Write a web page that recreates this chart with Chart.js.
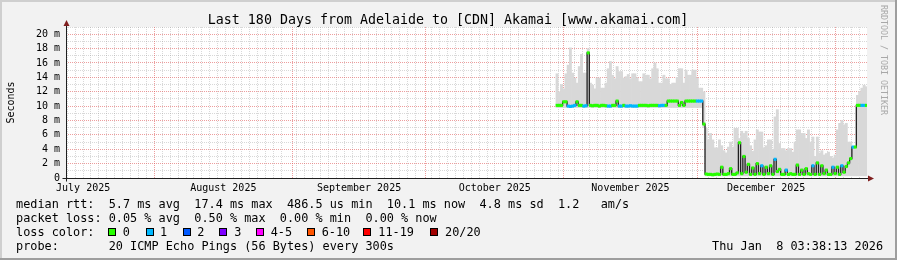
<!DOCTYPE html>
<html><head><meta charset="utf-8">
<script src="https://cdn.jsdelivr.net/npm/chart.js@4/dist/chart.umd.min.js"></script>
<style>html,body{margin:0;padding:0;background:#f2f2f2;overflow:hidden}canvas{display:block}</style>
</head><body>
<canvas id="c" width="897" height="260" style="width:897px;height:260px"></canvas>
<script>
// time axis: days since 2025-07-01 00:00
const viewStart = 11.15, viewEnd = 191.15;
const startDay = 121.5, stepDays = 0.5;

const median = [
10.1,10.1,10.1,10.6,10.6,10.0,9.95,10.0,10.1,10.6,
10.1,10.1,10.0,10.05,17.4,10.1,10.05,10.1,10.1,10.0,
10.1,10.1,10.05,10.0,10.0,10.1,10.1,10.7,10.0,10.0,
10.1,10.0,10.0,10.05,10.0,10.0,10.0,10.1,10.1,10.1,
10.1,10.05,10.1,10.1,10.1,10.1,10.05,10.1,10.1,10.1,
10.7,10.7,10.7,10.7,10.7,10.1,10.5,10.1,10.7,10.7,
10.7,10.7,10.7,10.7,10.7,10.7,7.5,0.55,0.5,0.5,
0.45,0.5,0.55,0.5,1.5,0.5,0.5,0.6,1.3,0.5,
0.5,0.7,4.9,0.6,3.0,0.8,1.9,0.5,1.4,0.5,
2.0,0.6,1.7,0.5,1.5,0.6,1.7,0.5,2.6,0.9,
1.2,0.5,0.5,1.1,0.5,0.6,0.5,0.5,1.8,0.5,
1.1,0.5,1.3,0.6,0.5,1.7,0.5,2.1,0.5,1.7,
0.6,1.1,0.5,0.5,1.5,0.6,1.5,0.5,1.7,0.8,
1.6,2.1,2.7,4.3,4.3,10.1,10.1,10.1,10.1,10.1
];
const smokeMax = [
14.5,12.0,13.0,12.4,14.5,15.7,18.1,14.6,13.9,13.2,
15.5,17.2,14.6,14.6,18.0,13.2,12.9,12.4,13.9,13.9,
12.5,12.5,13.2,15.2,16.2,14.3,13.8,15.5,14.8,14.8,
13.9,14.1,14.4,13.8,14.5,14.5,13.9,13.4,13.4,14.5,
14.3,14.3,13.8,15.2,16.0,15.2,13.2,13.2,14.3,13.8,
13.8,13.0,13.2,13.2,14.0,15.2,15.2,13.2,15.0,14.3,
14.3,15.0,15.0,13.9,12.5,12.5,12.0,6.9,5.3,6.2,
5.3,4.2,4.2,5.3,4.5,3.8,3.5,4.3,5.0,4.3,
6.9,6.9,5.5,6.5,6.2,6.5,5.5,4.5,3.7,5.3,
6.7,6.4,6.4,4.2,4.5,5.3,5.3,4.0,8.5,9.5,
4.8,4.1,4.1,3.8,4.1,4.1,3.6,5.0,6.7,6.7,
6.2,6.2,5.5,6.7,5.0,5.7,3.0,5.7,3.5,3.8,
3.2,3.4,3.6,3.0,2.8,3.2,6.7,7.6,8.0,7.4,
7.6,5.0,5.0,4.3,4.3,11.5,12.0,12.5,12.9,12.7
];
const smokeMin = [
9.8,9.8,9.8,9.8,9.8,9.8,9.8,9.8,9.8,9.8,
9.8,9.8,9.8,9.8,9.8,9.8,9.8,9.8,9.8,9.8,
9.8,9.8,9.8,9.8,9.8,9.8,9.8,9.8,9.8,9.8,
9.8,9.8,9.8,9.8,9.8,9.8,9.8,9.8,9.8,9.8,
9.8,9.8,9.8,9.8,9.8,9.8,9.8,9.8,9.8,9.8,
9.8,9.8,9.8,9.8,9.8,9.8,9.8,9.8,9.8,9.8,
9.8,9.8,9.8,9.8,9.8,9.8,7.0,0.3,0.3,0.3,
0.3,0.3,0.3,0.3,0.3,0.3,0.3,0.3,0.3,0.3,
0.3,0.3,0.3,0.3,0.3,0.3,0.3,0.3,0.3,0.3,
0.3,0.3,0.3,0.3,0.3,0.3,0.3,0.3,0.3,0.3,
0.3,0.3,0.3,0.3,0.3,0.3,0.3,0.3,0.3,0.3,
0.3,0.3,0.3,0.3,0.3,0.3,0.3,0.3,0.3,0.3,
0.3,0.3,0.3,0.3,0.3,0.3,0.3,0.3,0.3,0.3,
0.3,0.3,0.3,0.3,0.3,0.3,0.3,0.3,0.3,0.3
];
const loss = [
0,0,0,0,0,1,1,1,1,0,
0,0,1,1,0,0,0,0,0,0,
0,0,0,1,1,0,0,0,1,1,
0,1,1,1,1,1,1,0,0,0,
0,0,0,0,0,0,1,1,1,0,
0,0,0,0,0,0,0,0,0,0,
0,0,0,1,1,1,0,0,0,0,
0,0,0,0,0,0,0,0,0,0,
0,0,0,0,0,0,0,0,0,0,
0,0,1,0,0,0,0,0,1,0,
0,0,0,1,0,0,0,0,0,0,
0,0,0,0,0,1,0,0,0,0,
0,0,0,0,1,0,0,0,1,0,
0,0,0,1,0,0,0,1,1,0
];

const monthStarts = [31, 62, 92, 123, 153, 184];
const monthMids = [15, 46.5, 77, 107.5, 138, 168.5];
const monthLabels = ['July 2025','August 2025','September 2025','October 2025','November 2025','December 2025'];
const yMajorTicks = [0,2,4,6,8,10,12,14,16,18,20];
const yMinorTicks = [1,3,5,7,9,11,13,15,17,19,21];
const lossColors = ['#26ff00','#00b8ff','#0059ff','#7e00ff','#ff00ff','#ff5500','#ff0000','#a10000'];
const lossLabels = ['0','1','2','3','4-5','6-10','11-19','20/20'];
const statLines = [
  'median rtt:  5.7 ms avg  17.4 ms max  486.5 us min  10.1 ms now  4.8 ms sd  1.2   am/s',
  'packet loss: 0.05 % avg  0.50 % max  0.00 % min  0.00 % now',
  'loss color:',
  'probe:       20 ICMP Echo Pings (56 Bytes) every 300s'
];
const dateText = 'Thu Jan  8 03:38:13 2026';
const titleText = 'Last 180 Days from Adelaide to [CDN] Akamai [www.akamai.com]';

function lossIndex(n){ if(n<=3) return n; if(n<=5) return 4; if(n<=10) return 5; if(n<=19) return 6; return 7; }

const days = median.map((_, i) => startDay + i * stepDays);
const minorStep = 1.78;
const xMinorTicks = [];
for (let v = 31 - Math.floor((31 - viewStart) / minorStep) * minorStep; v <= viewEnd; v += minorStep) {
  if (!monthStarts.some(m => Math.abs(m - v) < 0.9)) xMinorTicks.push(v);
}

const MONO = 'DejaVu Sans Mono';
const MINOR_GRID = 'rgba(143,143,143,0.35)';
const MAJOR_GRID = 'rgba(222,79,79,0.55)';

const deco = {
  id: 'deco',
  beforeDraw(chart) {
    const ctx = chart.ctx, a = chart.chartArea;
    ctx.save();
    ctx.fillStyle = '#f2f2f2'; ctx.fillRect(0, 0, 897, 260);
    ctx.fillStyle = '#cfcfcf'; ctx.fillRect(0, 0, 897, 2); ctx.fillRect(0, 0, 2, 260);
    ctx.fillStyle = '#9e9e9e'; ctx.fillRect(0, 258, 897, 2); ctx.fillRect(895, 0, 2, 260);
    ctx.fillStyle = '#ffffff'; ctx.fillRect(a.left, a.top, a.right - a.left, a.bottom - a.top);
    ctx.restore();
  },
  afterDraw(chart) {
    const ctx = chart.ctx, a = chart.chartArea;
    ctx.save();
    ctx.strokeStyle = '#1f1f1f'; ctx.lineWidth = 1;
    const ax = Math.round(a.left) + 0.5, ay = Math.round(a.bottom) + 0.5;
    ctx.beginPath(); ctx.moveTo(ax, ay + 3); ctx.lineTo(ax, a.top - 3); ctx.stroke();
    ctx.beginPath(); ctx.moveTo(ax - 4, ay); ctx.lineTo(a.right + 3, ay); ctx.stroke();
    ctx.fillStyle = '#801f1f';
    ctx.beginPath(); ctx.moveTo(ax - 3, a.top - 1); ctx.lineTo(ax + 3, a.top - 1); ctx.lineTo(ax, a.top - 7); ctx.closePath(); ctx.fill();
    ctx.beginPath(); ctx.moveTo(a.right + 1, ay - 3); ctx.lineTo(a.right + 1, ay + 3); ctx.lineTo(a.right + 7, ay); ctx.closePath(); ctx.fill();
    ctx.fillStyle = '#000';
    ctx.font = '13.3px "' + MONO + '"';
    ctx.textAlign = 'center'; ctx.textBaseline = 'alphabetic';
    ctx.fillText(titleText, 448, 23.5);
    ctx.font = '11.85px "' + MONO + '"';
    ctx.textAlign = 'left';
    const base = [207.5, 221.8, 236.1, 250.4];
    statLines.forEach((s, i) => ctx.fillText(s, 16, base[i]));
    const boxX = [108, 145.7, 182.7, 219, 256, 306.7, 363.3, 430];
    const labX = [122.7, 160, 197.3, 234.3, 270.7, 321.7, 378.3, 445];
    lossLabels.forEach((l, i) => {
      ctx.fillStyle = lossColors[i];
      ctx.fillRect(Math.round(boxX[i]), 228, 8, 8);
      ctx.strokeStyle = '#000'; ctx.lineWidth = 1;
      ctx.strokeRect(Math.round(boxX[i]) + 0.5, 228.5, 7, 7);
      ctx.fillStyle = '#000';
      ctx.fillText(l, labX[i], base[2]);
    });
    ctx.fillText(dateText, 712, base[3]);
    ctx.save();
    ctx.translate(881, 5); ctx.rotate(Math.PI / 2);
    ctx.font = '8.3px "' + MONO + '"'; ctx.fillStyle = '#a8a8a8'; ctx.textBaseline = 'alphabetic';
    ctx.fillText('RRDTOOL / TOBI OETIKER', 0, 0);
    ctx.restore();
    ctx.restore();
  }
};

const xCommon = { type: 'linear', min: viewStart, max: viewEnd, position: 'bottom', offset: false };

new Chart(document.getElementById('c'), {
  type: 'bar',
  data: {
    datasets: [
      {
        type: 'bar', label: 'smoke', order: 3, xAxisID: 'x', yAxisID: 'y',
        data: days.map((d, i) => ({ x: d, y: [smokeMin[i], smokeMax[i]] })),
        backgroundColor: '#d8d8d8', borderWidth: 0,
        barPercentage: 1, categoryPercentage: 1, grouped: false
      },
      {
        type: 'line', label: 'median', order: 2, xAxisID: 'x', yAxisID: 'y',
        data: days.map((d, i) => ({ x: d, y: median[i] })),
        borderColor: '#202020', borderWidth: 1.3, pointRadius: 0, stepped: 'middle', fill: false
      },
      {
        type: 'bar', label: 'loss', order: 1, xAxisID: 'x', yAxisID: 'y',
        data: days.map((d, i) => ({ x: d, y: [median[i] - 0.17, median[i] + 0.17] })),
        backgroundColor: loss.map(n => lossColors[lossIndex(n)]), borderWidth: 0,
        barPercentage: 1, categoryPercentage: 1, grouped: false
      }
    ]
  },
  options: {
    responsive: false, animation: false, devicePixelRatio: 1,
    layout: { padding: { left: 1, right: 0, top: 27, bottom: 62 } },
    plugins: { legend: { display: false }, tooltip: { enabled: false }, title: { display: false } },
    scales: {
      x: Object.assign({}, xCommon, {
        afterBuildTicks: s => { s.ticks = monthMids.map(v => ({ value: v })); },
        afterFit: s => { s.height = 20; s.paddingLeft = 0; s.paddingRight = 0; },
        grid: { display: false, drawTicks: false, offset: false }, border: { display: false },
        ticks: { autoSkip: false, maxRotation: 0, padding: 4, color: '#000',
          font: { family: MONO, size: 10 }, callback: (v, i) => monthLabels[i] }
      }),
      xMajor: Object.assign({}, xCommon, {
        afterBuildTicks: s => { s.ticks = monthStarts.map(v => ({ value: v })); },
        afterFit: s => { s.height = 0; },
        ticks: { display: false }, border: { display: false, dash: [1, 1] },
        grid: { color: MAJOR_GRID, drawTicks: false, offset: false, z: -1 }
      }),
      xMinor: Object.assign({}, xCommon, {
        afterBuildTicks: s => { s.ticks = xMinorTicks.map(v => ({ value: v })); },
        afterFit: s => { s.height = 0; },
        ticks: { display: false }, border: { display: false, dash: [1, 1] },
        grid: { color: MINOR_GRID, drawTicks: false, offset: false, z: -2 }
      }),
      y: {
        min: 0, max: 21, position: 'left',
        afterBuildTicks: s => { s.ticks = yMajorTicks.map(v => ({ value: v })); },
        afterFit: s => { s.width = 65; },
        grid: { color: c => (c.tick && c.tick.value === 0) ? 'rgba(0,0,0,0)' : MAJOR_GRID, drawTicks: false, z: -1 },
        border: { display: false, dash: [1, 1] },
        ticks: { padding: 6, color: '#000', font: { family: MONO, size: 10 },
          callback: v => v === 0 ? '0' : v + ' m' },
        title: { display: true, text: 'Seconds', color: '#000', font: { family: MONO, size: 10 }, padding: { top: 4, bottom: 0 } }
      },
      yMinor: {
        min: 0, max: 21, position: 'left',
        afterBuildTicks: s => { s.ticks = yMinorTicks.map(v => ({ value: v })); },
        afterFit: s => { s.width = 0; },
        ticks: { display: false }, border: { display: false, dash: [1, 1] },
        grid: { color: MINOR_GRID, drawTicks: false, z: -2 }
      },
      yRight: {
        min: 0, max: 21, position: 'right',
        afterFit: s => { s.width = 30; },
        ticks: { display: false }, grid: { display: false }, border: { display: false }
      }
    }
  },
  plugins: [deco]
});
</script>
</body></html>
